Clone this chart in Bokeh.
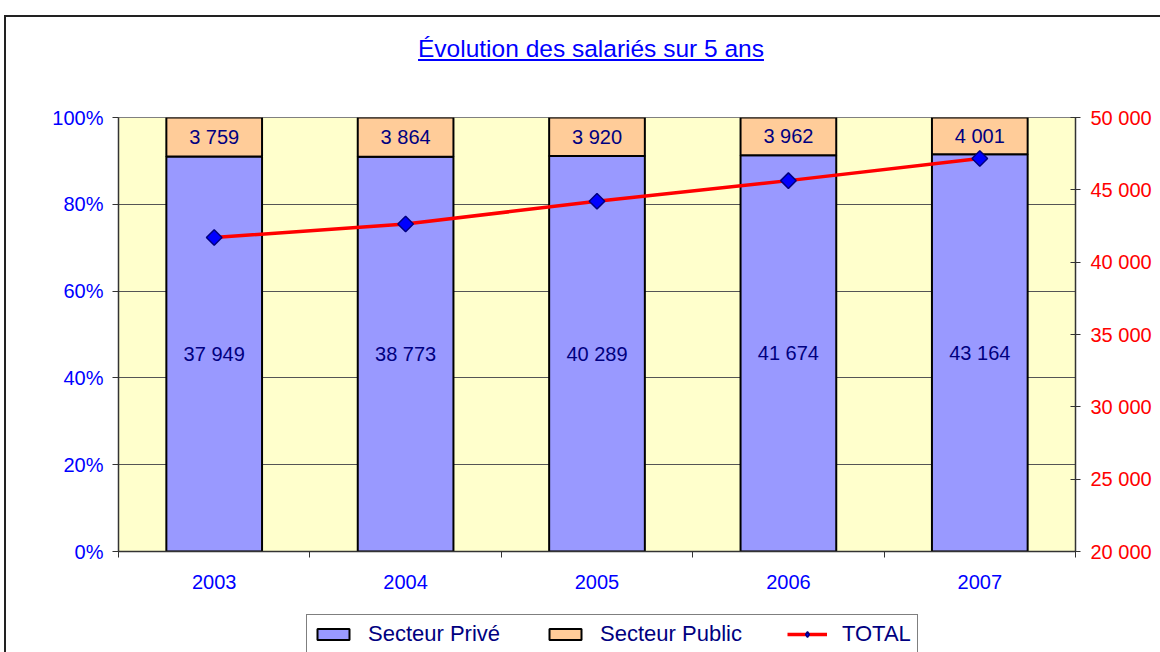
import math
from bokeh.plotting import figure
from bokeh.layouts import column
from bokeh.models import (Range1d, LinearAxis, FixedTicker, ColumnDataSource, Legend,
                          LegendItem, NumeralTickFormatter, Div)
from bokeh.embed import file_html
from bokeh.resources import INLINE
from bokeh.core.properties import value

# ---- data ----
years = ["2003", "2004", "2005", "2006", "2007"]
prive = [37949, 38773, 40289, 41674, 43164]
public = [3759, 3864, 3920, 3962, 4001]
left_ticks = [0, 0.2, 0.4, 0.6, 0.8, 1.0]
right_ticks = [20000, 25000, 30000, 35000, 40000, 45000, 50000]
title_text = "Évolution des salariés sur 5 ans"
legend_labels = ["Secteur Privé", "Secteur Public", "TOTAL"]

FONT = "Liberation Sans"
PRIVE_COLOR, PUBLIC_COLOR = "#9999FF", "#FFCC99"
AXIS_FS = "20px"


def fmt(v):
    return f"{v:,}".replace(",", " ")


total = [a + b for a, b in zip(prive, public)]
xs = [i + 0.5 for i in range(len(years))]
sh_prive = [a / t for a, t in zip(prive, total)]
src = ColumnDataSource(dict(
    x=xs,
    prive_top=sh_prive,
    public_top=[1.0] * len(years),
    prive_mid=[s / 2 for s in sh_prive],
    public_mid=[s + (1 - s) / 2 for s in sh_prive],
    prive_lbl=[fmt(v) for v in prive],
    public_lbl=[fmt(v) for v in public],
    total=total,
))

p = figure(width=1154, height=523, x_range=Range1d(0, len(years)), y_range=Range1d(0, 1),
           output_backend="svg", toolbar_location=None,
           min_border_left=112, min_border_right=85, min_border_top=40, min_border_bottom=49,
           background_fill_color="#FFFFCC", border_fill_color="white",
           outline_line_color="#808080", outline_line_width=1)

p.extra_y_ranges = {"tot": Range1d(right_ticks[0], right_ticks[-1])}

# left axis
ya = p.yaxis[0]
ya.ticker = FixedTicker(ticks=left_ticks)
ya.formatter = NumeralTickFormatter(format="0%")
ya.major_label_text_color = "#0000FF"
ya.major_label_text_font = FONT
ya.major_label_text_font_size = AXIS_FS
ya.major_tick_out = 6
ya.major_tick_in = 0
ya.minor_tick_line_color = None
ya.axis_line_color = "#333333"
ya.axis_line_width = 1.5
ya.major_tick_line_color = "#333333"
ya.major_label_standoff = 9

# x axis
xa = p.xaxis[0]
xa.ticker = FixedTicker(ticks=xs, minor_ticks=list(range(len(years) + 1)))
xa.major_label_overrides = {x: y for x, y in zip(xs, years)}
xa.major_label_text_color = "#0000FF"
xa.major_label_text_font = FONT
xa.major_label_text_font_size = AXIS_FS
xa.major_tick_out = 0
xa.major_tick_in = 0
xa.minor_tick_out = 6
xa.minor_tick_in = 0
xa.minor_tick_line_color = "#333333"
xa.axis_line_color = "#333333"
xa.axis_line_width = 1.5
xa.major_label_standoff = 17

p.xgrid.visible = False
p.ygrid.ticker = FixedTicker(ticks=left_ticks)
p.ygrid.grid_line_color = "#555555"
p.ygrid.grid_line_width = 1

# right axis
ra = LinearAxis(y_range_name="tot", ticker=FixedTicker(ticks=right_ticks))
ra.major_label_overrides = {t: fmt(t) for t in right_ticks}
ra.major_label_text_color = "#FF0000"
ra.major_label_text_font = FONT
ra.major_label_text_font_size = AXIS_FS
ra.major_tick_out = 5
ra.major_tick_in = 5
ra.minor_tick_line_color = None
ra.axis_line_color = "#333333"
ra.axis_line_width = 1.5
ra.major_tick_line_color = "#333333"
ra.major_label_standoff = 10
p.add_layout(ra, "right")

bar_prive = dict(fill_color=PRIVE_COLOR, line_color="black", line_width=2)
bar_public = dict(fill_color=PUBLIC_COLOR, line_color="black", line_width=2)
line_style = dict(line_color="#FF0000", line_width=3.5)
pt_common = dict(fill_color="#0000FF", line_color="#000080", line_width=1.5)

# bars
p.vbar(x="x", width=0.5, bottom=0, top="prive_top", source=src, **bar_prive)
p.vbar(x="x", width=0.5, bottom="prive_top", top="public_top", source=src, **bar_public)

# labels
for col, lab in (("prive_mid", "prive_lbl"), ("public_mid", "public_lbl")):
    p.text(x="x", y=col, text=lab, source=src, text_align="center", text_baseline="middle",
           text_font=value(FONT), text_font_size="20px", text_color="#000080")

# total line
p.line(x="x", y="total", source=src, y_range_name="tot", **line_style)
p.scatter(x="x", y="total", source=src, y_range_name="tot", marker="square", size=11,
          angle=math.pi / 4, **pt_common)

# ---- legend strip (separate small canvas below the chart) ----
# the same series are attached here only to feed the legend swatches; they are not drawn
lg = figure(width=1154, height=52, x_range=Range1d(0, len(years)), y_range=Range1d(0, 1),
            output_backend="svg", toolbar_location=None, x_axis_type=None, y_axis_type=None,
            min_border=0, outline_line_color=None, background_fill_color="white",
            border_fill_color="white")
lg.xgrid.visible = False
lg.ygrid.visible = False
lg.extra_y_ranges = {"tot": Range1d(right_ticks[0], right_ticks[-1])}
l_prive = lg.vbar(x="x", width=0.5, bottom=0, top="prive_top", source=src, **bar_prive)
l_public = lg.vbar(x="x", width=0.5, bottom="prive_top", top="public_top", source=src, **bar_public)
l_line = lg.line(x="x", y="total", source=src, y_range_name="tot", **line_style)
l_pts = lg.scatter(x="x", y="total", source=src, y_range_name="tot", marker="diamond", size=14,
                   **pt_common)
for r in (l_prive, l_public, l_line, l_pts):
    r.visible = False

legend = Legend(items=[LegendItem(label=legend_labels[0], renderers=[l_prive]),
                       LegendItem(label=legend_labels[1], renderers=[l_public]),
                       LegendItem(label=legend_labels[2], renderers=[l_line, l_pts])],
                orientation="horizontal", location=(188, -2),
                border_line_color="black", border_line_width=1, background_fill_color="white",
                inactive_fill_alpha=0,
                padding=6, margin=0, spacing=45, label_standoff=15, glyph_width=40, glyph_height=14,
                label_text_color="#000080", label_text_font=FONT, label_text_font_size="22px")
lg.add_layout(legend, "center")

title_div = Div(
    text=(f'<div style="margin-left:285px;width:600px;text-align:center;padding-top:20px;'
          f'font-family:\'{FONT}\';font-size:24.5px;line-height:24px;color:#0000FF;'
          f'text-decoration:underline;white-space:nowrap;">{title_text}</div>'),
    width=1154, height=60, margin=0)

layout = column(title_div, p, lg, margin=(15, 0, 0, 4),
                styles={"border-top": "2px solid #222222", "border-left": "2px solid #222222"})

open("out.html", "w").write(file_html(layout, INLINE))
